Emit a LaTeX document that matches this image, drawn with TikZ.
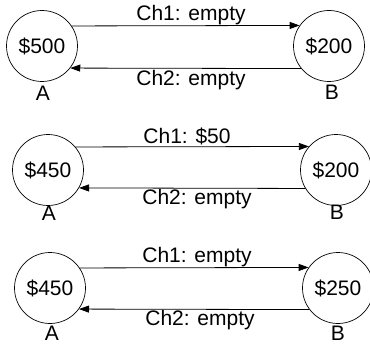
\documentclass[tikz,border=0pt]{standalone}
\usepackage{fontspec}
\setmainfont{Liberation Sans}
\usetikzlibrary{arrows.meta}
\begin{document}
\begin{tikzpicture}[x=1pt,y=-1pt,
  acct/.style={draw, circle, minimum size=71pt, inner sep=0pt, line width=0.7pt, font=\fontsize{21}{24}\selectfont},
  lbl/.style={inner sep=0pt, font=\fontsize{21}{24}\selectfont},
  chan/.style={line width=0.8pt, -{Triangle[length=10pt,width=7pt]}}]
\useasboundingbox (0,0) rectangle (370,345);
% row 1
\node[acct] (A1) at (42,46) {\$500};
\node[acct] (B1) at (329,46) {\$200};
\draw[chan] (A1.{asin(20/35.5)}) -- (B1.{180-asin(20/35.5)});
\draw[chan] (B1.{-180+asin(22/35.5)}) -- (A1.{-asin(22/35.5)});
\node[lbl] (c11) at (191,15) {Ch1: empty};
\node[lbl] (c21) at (191,80) {Ch2: empty};
\node[lbl] (la1) at (43,93) {A};
\node[lbl] (lb1) at (332,92) {B};
% row 2
\node[acct] (A2) at (48,170) {\$450};
\node[acct] (B2) at (336,170) {\$200};
\draw[chan] (A2.{asin(23/35.5)}) -- (B2.{180-asin(23/35.5)});
\draw[chan] (B2.{-180+asin(18/35.5)}) -- (A2.{-asin(18/35.5)});
\node[lbl] (c12) at (187,136) {Ch1: \$50};
\node[lbl] (c22) at (197,199) {Ch2: empty};
\node[lbl] (la2) at (49,213) {A};
\node[lbl] (lb2) at (337,212) {B};
% row 3
\node[acct] (A3) at (50,288) {\$450};
\node[acct] (B3) at (338,288) {\$250};
\draw[chan] (A3.{asin(20/35.5)}) -- (B3.{180-asin(20/35.5)});
\draw[chan] (B3.{-180+asin(21/35.5)}) -- (A3.{-asin(21/35.5)});
\node[lbl] (c13) at (197,257) {Ch1: empty};
\node[lbl] (c23) at (200,320) {Ch2: empty};
\node[lbl] (la3) at (52,333) {A};
\node[lbl] (lb3) at (338,333) {B};
\end{tikzpicture}
\end{document}
